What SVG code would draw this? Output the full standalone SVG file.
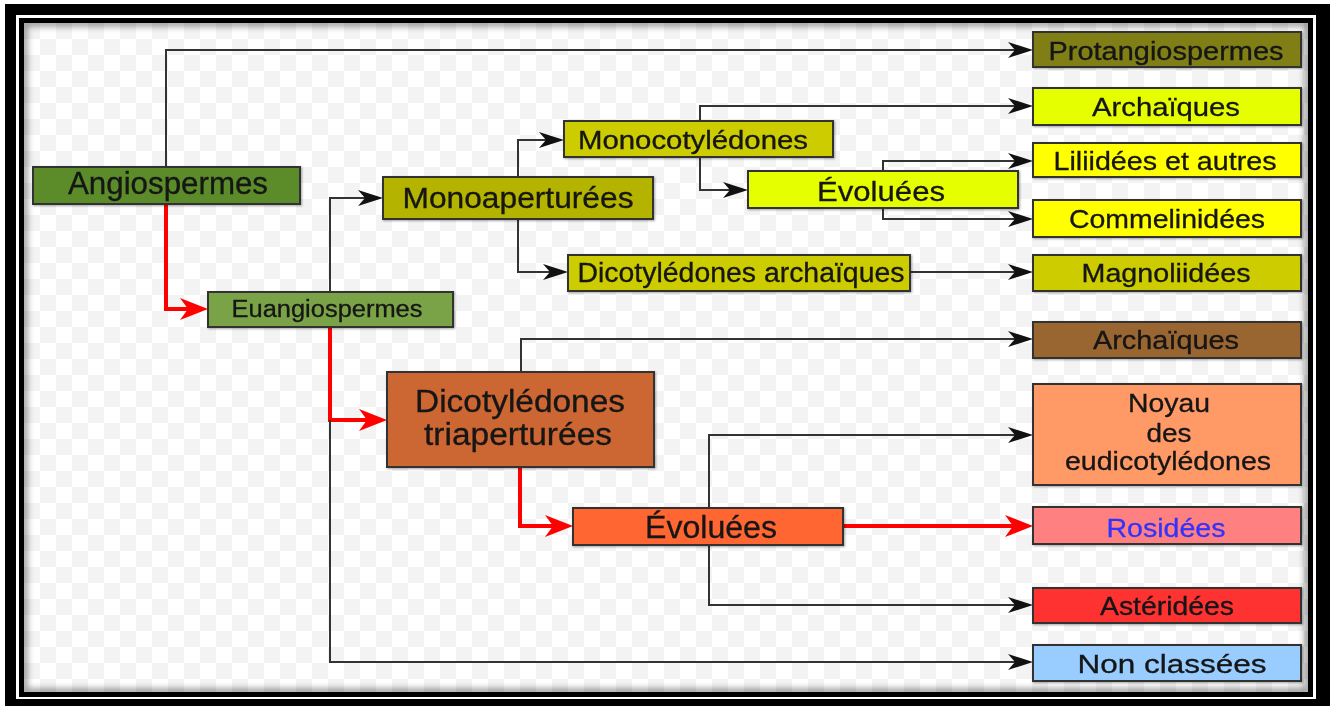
<svg xmlns="http://www.w3.org/2000/svg" width="1330" height="706" viewBox="0 0 1330 706">
<style>
.box{stroke:#333;stroke-width:2}
.t{font-family:"Liberation Sans",Arial,sans-serif;fill:#141414;text-anchor:middle;stroke:#141414;stroke-width:0.3}
.c{fill:none;stroke:#333;stroke-width:2}
.r{fill:none;stroke:#ff0000;stroke-width:4}
</style>
<defs>
<pattern id="chk" x="24" y="23" width="32" height="32" patternUnits="userSpaceOnUse">
<rect width="32" height="32" fill="#ffffff"/>
<rect width="16" height="16" fill="#f3f3f3"/>
<rect x="16" y="16" width="16" height="16" fill="#f3f3f3"/>
</pattern>
<filter id="blur" x="-5%" y="-5%" width="110%" height="110%"><feGaussianBlur stdDeviation="3"/></filter>
<clipPath id="inner"><rect x="24" y="23" width="1284" height="669"/></clipPath>
<filter id="sh" x="-10%" y="-20%" width="120%" height="140%"><feDropShadow dx="1" dy="1" stdDeviation="1" flood-color="#000" flood-opacity="0.35"/></filter>
<marker id="ab" markerUnits="userSpaceOnUse" markerWidth="40" markerHeight="30" refX="0" refY="0" orient="auto" overflow="visible">
<path d="M6,0 L-19,-8 L-12,0 L-19,8 z" fill="#111"/>
</marker>
<marker id="ar" markerUnits="userSpaceOnUse" markerWidth="40" markerHeight="30" refX="0" refY="0" orient="auto" overflow="visible">
<path d="M8,0 L-20,-11 L-12,0 L-20,11 z" fill="#ff0000"/>
</marker>
</defs>

<g id="frame">
<rect x="5" y="4" width="1325" height="702" fill="#000"/>
<rect x="16" y="15" width="1300" height="684" fill="#fff"/>
<rect x="19" y="18" width="1294" height="679" fill="#000"/>
<rect x="24" y="23" width="1284" height="669" fill="url(#chk)"/>
<g clip-path="url(#inner)">
<rect x="24" y="23" width="1284" height="669" fill="none" stroke="#000" stroke-opacity="0.4" stroke-width="7" filter="url(#blur)"/>
</g>
</g>

<g id="connectors">
<path class="c" d="M166,167 V50 H1027" marker-end="url(#ab)"/>
<path class="r" d="M166,205 V309 H200" marker-end="url(#ar)"/>
<path class="c" d="M330,292 V198 H377" marker-end="url(#ab)"/>
<path class="r" d="M330,327 V420 H379" marker-end="url(#ar)"/>
<path class="c" d="M330,420 V662 H1027" marker-end="url(#ab)"/>
<path class="c" d="M518,177 V140 H558" marker-end="url(#ab)"/>
<path class="c" d="M518,219 V272 H562" marker-end="url(#ab)"/>
<path class="c" d="M700,121 V106 H1027" marker-end="url(#ab)"/>
<path class="c" d="M700,157 V190 H742" marker-end="url(#ab)"/>
<path class="c" d="M883,171 V161 H1027" marker-end="url(#ab)"/>
<path class="c" d="M883,208 V219 H1027" marker-end="url(#ab)"/>
<path class="c" d="M910,272 H1027" marker-end="url(#ab)"/>
<path class="c" d="M521,372 V339 H1027" marker-end="url(#ab)"/>
<path class="r" d="M520,467 V526 H565" marker-end="url(#ar)"/>
<path class="c" d="M709,508 V435 H1027" marker-end="url(#ab)"/>
<path class="c" d="M709,545 V605 H1027" marker-end="url(#ab)"/>
<path class="r" d="M843,526 H1025" marker-end="url(#ar)"/>
</g>

<g id="n-angiospermes" filter="url(#sh)">
<rect class="box" x="33" y="167" width="267" height="37" fill="#5b8c2a"/>
<text class="t" x="168" y="194" font-size="31" textLength="200" lengthAdjust="spacingAndGlyphs">Angiospermes</text>
</g>
<g id="n-euangiospermes" filter="url(#sh)">
<rect class="box" x="208" y="292" width="245" height="35" fill="#7aa346"/>
<text class="t" x="327" y="317" font-size="23" textLength="191" lengthAdjust="spacingAndGlyphs">Euangiospermes</text>
</g>
<g id="n-monoaperturees" filter="url(#sh)">
<rect class="box" x="383" y="177" width="270" height="42" fill="#b3b300"/>
<text class="t" x="518" y="208" font-size="29" textLength="231" lengthAdjust="spacingAndGlyphs">Monoaperturées</text>
</g>
<g id="n-monocotyledones" filter="url(#sh)">
<rect class="box" x="564" y="121" width="269" height="36" fill="#cccc00"/>
<text class="t" x="693" y="149" font-size="25" textLength="230" lengthAdjust="spacingAndGlyphs">Monocotylédones</text>
</g>
<g id="n-evoluees-mono" filter="url(#sh)">
<rect class="box" x="748" y="171" width="270" height="37" fill="#e6ff00"/>
<text class="t" x="881" y="201" font-size="27" textLength="128" lengthAdjust="spacingAndGlyphs">Évoluées</text>
</g>
<g id="n-dicot-archaiques" filter="url(#sh)">
<rect class="box" x="568" y="255" width="342" height="36" fill="#cccc00"/>
<text class="t" x="741" y="282" font-size="27" textLength="327" lengthAdjust="spacingAndGlyphs">Dicotylédones archaïques</text>
</g>
<g id="n-dicot-triaperturees" filter="url(#sh)">
<rect class="box" x="387" y="372" width="267" height="95" fill="#cc6633"/>
<text class="t" x="520" y="412" font-size="31" textLength="210" lengthAdjust="spacingAndGlyphs">Dicotylédones</text>
<text class="t" x="518" y="445" font-size="31" textLength="188" lengthAdjust="spacingAndGlyphs">triaperturées</text>
</g>
<g id="n-evoluees-dicot" filter="url(#sh)">
<rect class="box" x="573" y="508" width="270" height="37" fill="#ff6633"/>
<text class="t" x="711" y="538" font-size="31" textLength="132" lengthAdjust="spacingAndGlyphs">Évoluées</text>
</g>

<g id="n-protangiospermes" filter="url(#sh)">
<rect class="box" x="1033" y="32" width="268" height="35" fill="#7f7f16"/>
<text class="t" x="1166" y="60" font-size="26" textLength="235" lengthAdjust="spacingAndGlyphs">Protangiospermes</text>
</g>
<g id="n-archaiques-mono" filter="url(#sh)">
<rect class="box" x="1033" y="88" width="268" height="37" fill="#e6ff00"/>
<text class="t" x="1166" y="116" font-size="26" textLength="148" lengthAdjust="spacingAndGlyphs">Archaïques</text>
</g>
<g id="n-liliidees" filter="url(#sh)">
<rect class="box" x="1033" y="143" width="268" height="34" fill="#ffff00"/>
<text class="t" x="1165" y="170" font-size="26" textLength="223" lengthAdjust="spacingAndGlyphs">Liliidées et autres</text>
</g>
<g id="n-commelinidees" filter="url(#sh)">
<rect class="box" x="1033" y="200" width="268" height="37" fill="#ffff00"/>
<text class="t" x="1167" y="228" font-size="26" textLength="196" lengthAdjust="spacingAndGlyphs">Commelinidées</text>
</g>
<g id="n-magnoliidees" filter="url(#sh)">
<rect class="box" x="1033" y="255" width="268" height="36" fill="#cccc00"/>
<text class="t" x="1166" y="282" font-size="26" textLength="169" lengthAdjust="spacingAndGlyphs">Magnoliidées</text>
</g>
<g id="n-archaiques-dicot" filter="url(#sh)">
<rect class="box" x="1033" y="322" width="268" height="36" fill="#996633"/>
<text class="t" x="1166" y="349" font-size="26" textLength="146" lengthAdjust="spacingAndGlyphs">Archaïques</text>
</g>
<g id="n-noyau" filter="url(#sh)">
<rect class="box" x="1033" y="384" width="268" height="101" fill="#ff9966"/>
<text class="t" x="1169" y="412" font-size="26" textLength="82" lengthAdjust="spacingAndGlyphs">Noyau</text>
<text class="t" x="1169" y="442" font-size="26" textLength="45" lengthAdjust="spacingAndGlyphs">des</text>
<text class="t" x="1168" y="470" font-size="26" textLength="206" lengthAdjust="spacingAndGlyphs">eudicotylédones</text>
</g>
<g id="n-rosidees" filter="url(#sh)">
<rect class="box" x="1033" y="507" width="268" height="37" fill="#ff8080"/>
<text class="t" x="1166" y="537" font-size="26" textLength="119" lengthAdjust="spacingAndGlyphs" style="fill:#3333ff;stroke:#3333ff">Rosidées</text>
</g>
<g id="n-asteridees" filter="url(#sh)">
<rect class="box" x="1033" y="588" width="268" height="35" fill="#ff3333"/>
<text class="t" x="1167" y="615" font-size="26" textLength="134" lengthAdjust="spacingAndGlyphs">Astéridées</text>
</g>
<g id="n-non-classees" filter="url(#sh)">
<rect class="box" x="1033" y="645" width="268" height="36" fill="#99ccff"/>
<text class="t" x="1172" y="673" font-size="26" textLength="189" lengthAdjust="spacingAndGlyphs">Non classées</text>
</g>
</svg>
